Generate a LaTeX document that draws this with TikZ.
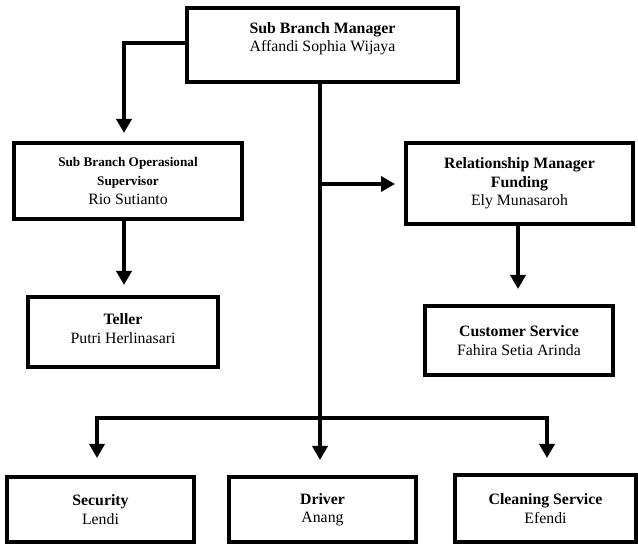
\documentclass[tikz,border=0pt]{standalone}
\usepackage{fontspec}
\setmainfont{Liberation Serif}
\usetikzlibrary{arrows.meta}

\begin{document}
\begin{tikzpicture}[
x=1pt,y=-1pt,
post/.style={
  draw,
  line width=4pt,
  align=center,
  font=\fontsize{15.8}{18.5}\selectfont,
  inner sep=0pt
  },
link/.style={
  line width=4pt,
  -{Triangle[length=14pt,width=15pt]}
  }
]
\useasboundingbox (0,0) rectangle (638,545);
% top
\node[post, minimum width=271, minimum height=74] (sbm) at (322.5,45)
  {\textbf{Sub Branch Manager}\\Affandi Sophia Wijaya\\[-3pt]~};
% left side
\node[post, minimum width=228, minimum height=76] (sbos) at (128,181)
  {\fontsize{13.2}{16}\selectfont\textbf{Sub Branch Operasional}\\
   \fontsize{13.2}{16}\selectfont\textbf{Supervisor}\\
   \fontsize{15.8}{17}\selectfont Rio Sutianto};
\node[post, minimum width=190, minimum height=70] (teller) at (123,332)
  {\textbf{Teller}\\Putri Herlinasari\\[-12pt]~};
% right side
\node[post, minimum width=227, minimum height=81] (rmf) at (519.5,183.5)
  {\textbf{Relationship Manager}\\\textbf{Funding}\\Ely Munasaroh};
\node[post, minimum width=188, minimum height=69] (cs) at (519,340.5)
  {\textbf{Customer Service}\\Fahira Setia Arinda};
% bottom row
\node[post, minimum width=187, minimum height=65] (sec) at (100.5,509.5)
  {\textbf{Security}\\Lendi};
\node[post, minimum width=187, minimum height=65] (driver) at (322.5,509.5)
  {\textbf{Driver}\\Anang};
\node[post, minimum width=181, minimum height=67] (clean) at (545.5,508.5)
  {\textbf{Cleaning Service}\\Efendi};

\coordinate (mid) at (320,184);
\coordinate (bar) at (320,418);

\draw[link, shorten >=8pt] ([yshift=2pt]sbm.west) -| ([xshift=-4pt]sbos.north);
\draw[link, shorten >=15pt] ([xshift=-2.5pt]sbm.south) -- ([xshift=-2.5pt]driver.north);
\draw[link, shorten >=9pt] (mid) -- (mid -| rmf.west);
\draw[link, shorten >=10pt] ([xshift=-4pt]sbos.south) -- ([xshift=-4pt]sbos.south |- teller.north);
\draw[link, shorten >=15pt] ([xshift=-1.5pt]rmf.south) -- ([xshift=-1.5pt]rmf.south |- cs.north);
\foreach \n/\dx/\gap in {sec/-3.5/17,clean/1.5/15}
  \draw[link, shorten >=\gap pt] (bar) -| ([xshift=\dx pt]\n.north);

\end{tikzpicture}
\end{document}
